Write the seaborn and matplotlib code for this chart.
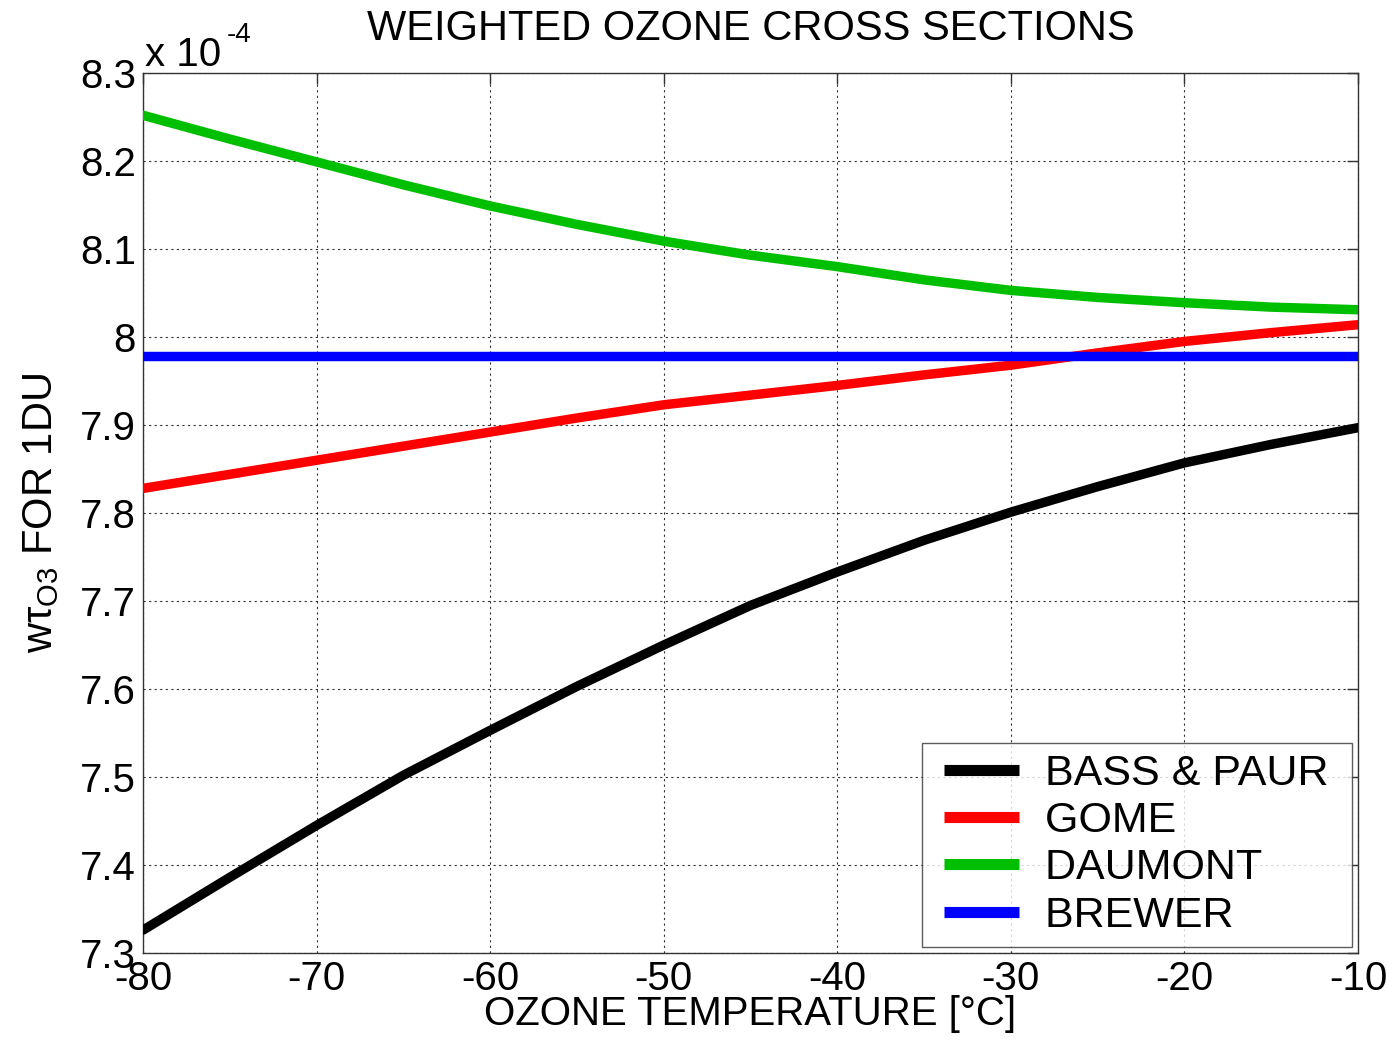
import numpy as np
import pandas as pd
import matplotlib
matplotlib.use("Agg")
import matplotlib.pyplot as plt
import seaborn as sns
from matplotlib.ticker import FuncFormatter, MultipleLocator
from matplotlib.lines import Line2D
from matplotlib.legend_handler import HandlerLine2D

sns.set_style("white")
plt.rcParams['font.family'] = ['Liberation Sans', 'DejaVu Sans']
plt.rcParams['mathtext.fontset'] = 'custom'
plt.rcParams['mathtext.rm'] = 'Liberation Sans'
plt.rcParams['mathtext.it'] = 'Liberation Sans:italic'
plt.rcParams['axes.unicode_minus'] = False
plt.rcParams['text.color'] = 'black'
plt.rcParams['axes.labelcolor'] = 'black'
plt.rcParams['xtick.color'] = 'black'
plt.rcParams['ytick.color'] = 'black'

# Data (values in units of 1e-4)
temperature = [-80, -75, -70, -65, -60, -55, -50, -45, -40, -35, -30, -25, -20, -15, -10]
bass_paur = [7.326, 7.386, 7.445, 7.502, 7.553, 7.603, 7.650, 7.695, 7.733, 7.769, 7.801, 7.830, 7.857, 7.878, 7.897]
gome = [7.828, 7.844, 7.860, 7.876, 7.892, 7.908, 7.923, 7.934, 7.945, 7.957, 7.968, 7.982, 7.995, 8.005, 8.014]
daumont = [8.252, 8.225, 8.199, 8.173, 8.149, 8.128, 8.109, 8.093, 8.080, 8.065, 8.053, 8.045, 8.039, 8.034, 8.031]
brewer = [7.978] * len(temperature)

series_names = ["BASS & PAUR", "GOME", "DAUMONT", "BREWER"]
series_vals = [bass_paur, gome, daumont, brewer]
colors = {"BASS & PAUR": "#000000", "GOME": "#ff0000", "DAUMONT": "#00bf00", "BREWER": "#0000ff"}
scale = 1e-4

rows = []
for name, vals in zip(series_names, series_vals):
    for t, v in zip(temperature, vals):
        rows.append({"T": t, "val": v * scale, "series": name})
df = pd.DataFrame(rows)

fig = plt.figure(figsize=(13.87, 10.42), dpi=100)
ax = fig.add_axes([0.1031, 0.0854, 0.876, 0.8445])

sns.lineplot(data=df, x="T", y="val", hue="series", hue_order=series_names,
             palette=colors, linewidth=6.8, ax=ax, legend=False, zorder=3)

ax.set_xlim(-80, -10)
ax.set_ylim(7.3e-4, 8.3e-4)
ax.xaxis.set_major_locator(MultipleLocator(10))
ax.yaxis.set_major_locator(MultipleLocator(0.1e-4))
ax.yaxis.set_major_formatter(FuncFormatter(lambda y, p: "%g" % round(y / scale, 4)))
ax.grid(True, color="black", linestyle=(0, (2, 3)), linewidth=0.8, alpha=0.8)
ax.tick_params(direction="in", length=8, width=1, top=True, right=True,
               labelsize=29, pad=5, color="#333333")
for s in ax.spines.values():
    s.set_color("#333333")
    s.set_linewidth(1.0)

ax.set_xlabel("OZONE TEMPERATURE [°C]", fontsize=29, labelpad=-2)
ax.set_ylabel("wτ$_{\\mathrm{O3}}$ FOR 1DU", fontsize=30, labelpad=14)
ax.set_title("WEIGHTED OZONE CROSS SECTIONS", fontsize=30, pad=24)
ax.text(0.0, 0.0075, "x 10", transform=ax.transAxes + matplotlib.transforms.ScaledTranslation(0, 0.0, fig.dpi_scale_trans),
        fontsize=29, ha="left", va="baseline")
ax.texts[-1].set_transform(ax.transAxes)
ax.texts[-1].set_position((0.0015, 1.0075))
ax.text(0.069, 1.035, "-4", transform=ax.transAxes,
        fontsize=20, ha="left", va="baseline")


class PadHandler(HandlerLine2D):
    def get_xdata(self, legend, xdescent, ydescent, width, height, fontsize):
        pad = 0.27 * fontsize
        xd = np.array([-xdescent + pad, -xdescent + width])
        return xd, xd


handles = [Line2D([0], [0], color=colors[n], linewidth=8, solid_capstyle="butt")
           for n in series_names]
labels = [n + " " for n in series_names]
leg = ax.legend(handles, labels, loc="lower right", fontsize=31,
                frameon=True, fancybox=False, edgecolor="#333333",
                borderpad=0.25, handlelength=2.02, handletextpad=0.6,
                labelspacing=0.17, borderaxespad=0.15,
                handler_map={Line2D: PadHandler()})
leg.get_frame().set_linewidth(1.0)

fig.savefig("out.png", dpi=100)
